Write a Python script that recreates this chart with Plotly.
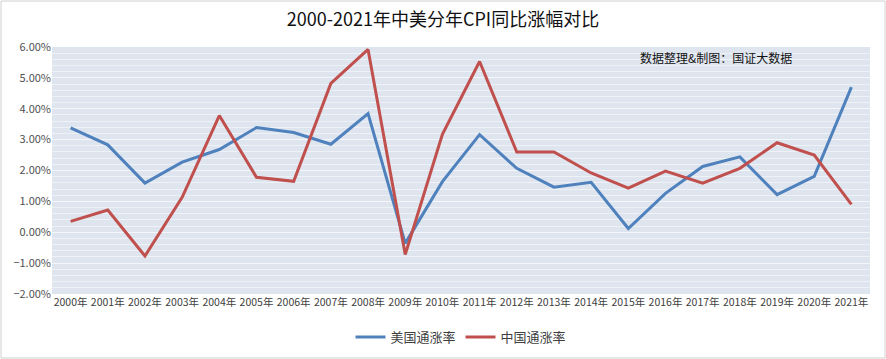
import plotly.graph_objects as go

years = [f"{y}年" for y in range(2000, 2022)]
us_cpi = [3.38, 2.83, 1.59, 2.27, 2.68, 3.39, 3.23, 2.85, 3.84, -0.36, 1.64,
          3.16, 2.07, 1.46, 1.62, 0.12, 1.26, 2.13, 2.44, 1.22, 1.81, 4.70]
cn_cpi = [0.35, 0.72, -0.77, 1.13, 3.78, 1.78, 1.65, 4.82, 5.92, -0.72, 3.17,
          5.53, 2.60, 2.60, 1.92, 1.43, 1.98, 1.59, 2.07, 2.90, 2.50, 0.90]
us_vals = [v / 100 for v in us_cpi]
cn_vals = [v / 100 for v in cn_cpi]

W, H = 886, 359
ml, mr, mt, mb = 52, 16, 47, 65

fig = go.Figure()
fig.add_trace(go.Scatter(x=years, y=us_vals, mode="lines", name="美国通涨率",
                         line=dict(color="#4f81bd", width=3)))
fig.add_trace(go.Scatter(x=years, y=cn_vals, mode="lines", name="中国通涨率",
                         line=dict(color="#c0504d", width=3)))

font_family = "Noto Sans CJK SC, Noto Sans, sans-serif"

pw = W - ml - mr
ph = H - mt - mb

fig.update_layout(
    width=W, height=H,
    margin=dict(l=ml, r=mr, t=mt, b=mb, autoexpand=False),
    paper_bgcolor="white",
    plot_bgcolor="#dfe5ef",
    font=dict(family=font_family, color="#404040"),
    title=dict(text="2000-2021年中美分年CPI同比涨幅对比", x=0.5, xanchor="center",
               y=1 - 20 / H, yanchor="middle",
               font=dict(size=18, color="#111111", family=font_family)),
    showlegend=True,
    legend=dict(orientation="h", x=0.5, xanchor="center", y=-(337 - (H - mb)) / ph,
                yanchor="middle", font=dict(size=13, color="#404040"),
                itemwidth=30, tracegroupgap=0,
                bgcolor="rgba(0,0,0,0)"),
    xaxis=dict(type="category", showgrid=False, showline=False, ticks="",
               tickfont=dict(size=10.5, color="#404040"), tickangle=0,
               range=[-0.5, 21.5], automargin=False),
    yaxis=dict(range=[-0.02, 0.06], dtick=0.01, tickformat=".2%",
               showgrid=True, gridcolor="#f4f6fa", gridwidth=1,
               minor=dict(dtick=0.002, showgrid=True, gridcolor="#eef1f6", gridwidth=1),
               zeroline=False, showline=False, ticks="", automargin=False,
               tickfont=dict(size=11, color="#505050")),
    annotations=[dict(text="数据整理&制图：国证大数据", xref="paper", yref="paper",
                      x=(638 - ml) / pw, y=1 - (58 - mt) / ph, xanchor="left",
                      yanchor="middle", showarrow=False,
                      font=dict(size=12, color="#111111", family=font_family))],
    shapes=[dict(type="rect", xref="paper", yref="paper",
                 x0=-(ml - 1) / pw, x1=1 + (mr - 1) / pw,
                 y0=-(mb - 1) / ph, y1=1 + (mt - 1) / ph,
                 line=dict(color="#d0d0d0", width=1), layer="below")],
)

fig.write_html("out.html", config={"displayModeBar": False},
               post_script="document.body.style.margin='0';document.body.style.overflow='hidden';")
